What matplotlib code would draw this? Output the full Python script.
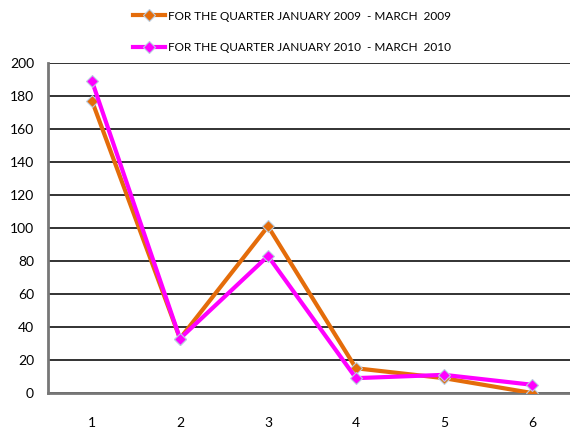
import matplotlib.pyplot as plt

plt.rcParams['font.family'] = ['Lato', 'DejaVu Sans']

# category positions and series values
categories = [1, 2, 3, 4, 5, 6]
q2009 = [177, 33, 101, 15, 9, 0]
q2010 = [189, 33, 83, 9, 11, 5]
yticks = [0, 20, 40, 60, 80, 100, 120, 140, 160, 180, 200]

fig = plt.figure(figsize=(5.7, 4.28), dpi=100)
ax = fig.add_axes([48/570, 35/428, 528/570, 330/428])

ax.plot(categories, q2009, color='#E46C0A', lw=3, marker='D', ms=6,
        mec='#B9CDE0', mew=0.8, label='FOR THE QUARTER JANUARY 2009  - MARCH  2009', zorder=3)
ax.plot(categories, q2010, color='#FF00FF', lw=3, marker='D', ms=6,
        mec='#B9CDE0', mew=0.8, label='FOR THE QUARTER JANUARY 2010  - MARCH  2010', zorder=4)

ax.set_xlim(0.5, 6.5)
ax.set_ylim(0, 200)
ax.set_xticks(categories)
ax.set_yticks(yticks)
ax.yaxis.grid(True, color='#222222', lw=1.3)
ax.set_axisbelow(True)
ax.tick_params(axis='both', length=0, labelsize=10)
ax.tick_params(axis='x', pad=17)
ax.tick_params(axis='y', pad=10)

for s in ['top', 'right']:
    ax.spines[s].set_visible(False)
ax.spines['left'].set_color('#777777')
ax.spines['left'].set_linewidth(2)
ax.spines['bottom'].set_color('#777777')
ax.spines['bottom'].set_linewidth(2)

fig.legend(loc='upper left', bbox_to_anchor=(122/570, 1.0), frameon=False,
           fontsize=8.5, handlelength=2.7, labelspacing=1.7, handletextpad=0.3)

fig.savefig('out.png', dpi=100)
